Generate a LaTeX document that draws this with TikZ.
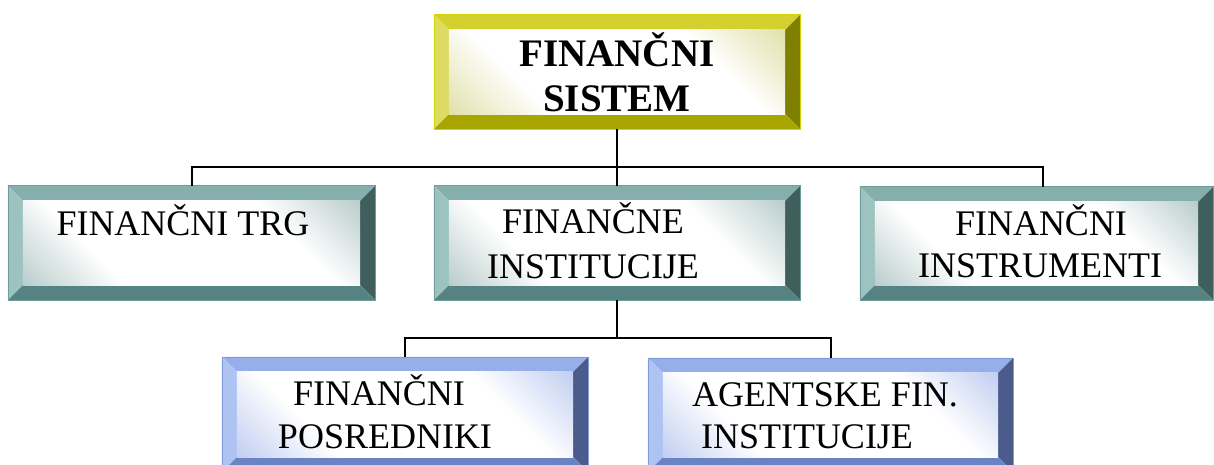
\documentclass[tikz,border=0pt]{standalone}
\usepackage{fontspec}
\setmainfont{Liberation Serif}
\definecolor{ytop}{HTML}{D4D12E}
\definecolor{yleft}{HTML}{DDDB62}
\definecolor{yright}{HTML}{808000}
\definecolor{ybot}{HTML}{A8A500}
\definecolor{ytint}{HTML}{C8C765}
\definecolor{yedge}{HTML}{D6D400}
\definecolor{ttop}{HTML}{84AFAD}
\definecolor{tleft}{HTML}{9DC3C1}
\definecolor{tright}{HTML}{3F5F5D}
\definecolor{tbot}{HTML}{568381}
\definecolor{ttint}{HTML}{7FA3A1}
\definecolor{tedge}{HTML}{6E9C9A}
\definecolor{btop}{HTML}{96AEEA}
\definecolor{bleft}{HTML}{AFC3F3}
\definecolor{bright}{HTML}{4B5B8C}
\definecolor{bbot}{HTML}{6A83C5}
\definecolor{btint}{HTML}{8EA6E6}
\definecolor{bedge}{HTML}{7F99DD}
\pgfdeclareverticalshading{yshade}{100bp}{color(0bp)=(ytint); color(32bp)=(white); color(68bp)=(white); color(100bp)=(ytint)}
\pgfdeclareverticalshading{tshade}{100bp}{color(0bp)=(ttint); color(32bp)=(white); color(68bp)=(white); color(100bp)=(ttint)}
\pgfdeclareverticalshading{bshade}{100bp}{color(0bp)=(btint); color(32bp)=(white); color(68bp)=(white); color(100bp)=(btint)}
\newcommand\bevbox[6]{%
  \node[minimum width=#4pt, minimum height=#5pt, inner sep=0pt, draw=none] (#1) at (#2,#3) {};
  \fill[#6top] (#1.north west) -- (#1.north east) -- ([shift={(-15pt,-15pt)}]#1.north east) -- ([shift={(15pt,-15pt)}]#1.north west) -- cycle;
  \fill[#6left] (#1.north west) -- ([shift={(15pt,-15pt)}]#1.north west) -- ([shift={(15pt,15pt)}]#1.south west) -- (#1.south west) -- cycle;
  \fill[#6right] (#1.north east) -- (#1.south east) -- ([shift={(-15pt,15pt)}]#1.south east) -- ([shift={(-15pt,-15pt)}]#1.north east) -- cycle;
  \fill[#6bot] (#1.south west) -- ([shift={(15pt,15pt)}]#1.south west) -- ([shift={(-15pt,15pt)}]#1.south east) -- (#1.south east) -- cycle;
  \shade[shading=#6shade, shading angle=-45] ([shift={(15pt,-15pt)}]#1.north west) rectangle ([shift={(-15pt,15pt)}]#1.south east);
  \draw[#6edge, line width=0.6pt] (#1.north west) rectangle (#1.south east);
}
\tikzset{
  lbl/.style={font=\fontsize{36}{43}\selectfont, inner sep=0pt, anchor=base},
  blbl/.style={font=\fontsize{39}{45}\selectfont\bfseries, inner sep=0pt, anchor=base},
  conn/.style={draw=black, line width=2pt}
}
\begin{document}
\begin{tikzpicture}[x=1pt,y=1pt]
\useasboundingbox (0,0) rectangle (1214,464);
\clip (0,0) rectangle (1214,464);
% boxes
\bevbox{top}{617}{392}{366}{114}{y}
\bevbox{trg}{191.5}{221}{367}{114}{t}
\bevbox{inst}{617}{221}{366}{114}{t}
\bevbox{instr}{1036.5}{220.5}{353}{113}{t}
\bevbox{posr}{405}{49.5}{366}{115}{b}
\bevbox{agent}{830.5}{49}{365}{114}{b}
% texts
\node[blbl] (top1) at (617,397) {FINANČNI};
\node[blbl] (top2) at (617,352) {SISTEM};
\node[lbl] (trg1) at (183,229) {FINANČNI TRG};
\node[lbl] (inst1) at (593,231) {FINANČNE};
\node[lbl] (inst2) at (593,186) {INSTITUCIJE};
\node[lbl] (instr1) at (1041,229) {FINANČNI};
\node[lbl] (instr2) at (1040,187) {INSTRUMENTI};
\node[lbl] (posr1) at (379,59) {FINANČNI};
\node[lbl] (posr2) at (385,16) {POSREDNIKI};
\node[lbl] (agent1) at (825,58) {AGENTSKE FIN.};
\node[lbl] (agent2) at (807,16) {INSTITUCIJE};
% connectors
\coordinate (j1) at (617,297);
\coordinate (j2) at (617,126);
\draw[conn] (top.south) -- (inst.north);
\draw[conn] (trg.north) |- (j1) -| ([xshift=6pt]instr.north);
\draw[conn] (inst.south) -- (j2);
\draw[conn] (posr.north) |- (j2) -| (agent.north);
\end{tikzpicture}
\end{document}
